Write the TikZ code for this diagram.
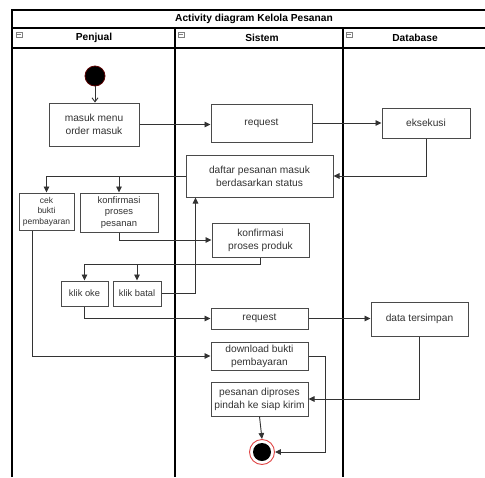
\documentclass[tikz,border=0pt]{standalone}
\usepackage{fontspec}
\setmainfont{Liberation Sans}
\usetikzlibrary{arrows.meta}
\definecolor{ink}{HTML}{333333}
\definecolor{edge}{HTML}{4A4A4A}
\definecolor{ringred}{HTML}{E04848}
\begin{document}
\begin{tikzpicture}[x=1pt,y=-1pt,
  lane/.style={line width=1.8pt,black},
  act/.style={draw=edge,line width=1pt,fill=white,rectangle,inner sep=0pt,
    align=center,text=ink,font=\fontsize{10.2}{13}\selectfont},
  flow/.style={draw=ink,line width=0.9pt,-{Triangle[length=6pt,width=5.5pt]}},
  lanehead/.style={font=\bfseries\fontsize{10.2}{12}\selectfont,text=black},
  foldicon/.style={draw=gray,line width=0.6pt,fill=white}]
\useasboundingbox (0,0) rectangle (485,477);
\clip (0,0) rectangle (485,477);

% swimlane frame
\draw[lane] (12,477) -- (12,10) -- (492,10) -- (492,477);
\draw[lane] (12,28) -- (492,28);
\draw[lane] (12,48) -- (492,48);
\draw[lane] (175,28) -- (175,477);
\draw[lane] (343,28) -- (343,477);
\node[font=\bfseries\fontsize{10.2}{12}\selectfont] (title) at (254,19) {Activity diagram Kelola Pesanan};
\node[lanehead] (hpenjual) at (94,38) {Penjual};
\node[lanehead] (hsistem) at (262,38) {Sistem};
\node[lanehead] (hdb) at (415,38) {Database};
\foreach \ix in {16,178,346}{
  \draw[foldicon] (\ix,32) rectangle ++(6,5);
  \draw[gray,line width=0.6pt] (\ix+1.2,34.5) -- ++(3.6,0);
}

% start and end
\node[circle,fill=black,draw={rgb,255:red,90;green,0;blue,0},line width=0.8pt,
  minimum size=20pt,inner sep=0pt] (start) at (95,76) {};
\node[circle,draw=ringred,line width=0.9pt,fill=white,minimum size=25pt,inner sep=0pt] (end) at (262,452) {};
\fill[black] (end.center) circle (9);

% activities
\node[act,minimum width=90pt,minimum height=43pt] (masuk) at (94,124.5) {masuk menu\\order masuk};
\node[act,minimum width=101pt,minimum height=38pt] (req1) at (261.5,123) {request};
\node[act,minimum width=88pt,minimum height=30pt] (eks) at (426,123) {eksekusi};
\node[act,minimum width=147pt,minimum height=42pt] (daftar) at (259.5,176) {daftar pesanan masuk\\berdasarkan status};
\node[act,minimum width=55pt,minimum height=37pt,font=\fontsize{8.5}{10.5}\selectfont] (cek) at (46.5,211.5) {cek\\bukti\\pembayaran};
\node[act,minimum width=78pt,minimum height=39pt,font=\fontsize{9.4}{11.7}\selectfont] (kpes) at (119,212.5) {konfirmasi\\proses\\pesanan};
\node[act,minimum width=97pt,minimum height=34pt] (kprod) at (260.5,240) {konfirmasi\\proses produk};
\node[act,minimum width=47pt,minimum height=25pt,font=\fontsize{9.3}{11}\selectfont] (oke) at (84.5,293.5) {klik oke};
\node[act,minimum width=48pt,minimum height=25pt,font=\fontsize{9.3}{11}\selectfont] (batal) at (137,293.5) {klik batal};
\node[act,minimum width=97pt,minimum height=21pt] (req2) at (259.5,318.5) {request};
\node[act,minimum width=97pt,minimum height=34pt] (data) at (419.5,319) {data tersimpan};
\node[act,minimum width=97pt,minimum height=28pt] (down) at (259.5,356) {download bukti\\pembayaran};
\node[act,minimum width=97pt,minimum height=34pt] (pes) at (259.5,399) {pesanan diproses\\pindah ke siap kirim};

% junction points (shifts are in canvas units: negative y goes down)
\coordinate (jdaftar) at (kpes.north |- daftar.west);
\coordinate (jprod) at ([yshift=-7pt]kprod.south);
\coordinate (jbatal) at (batal.north |- jprod);
\coordinate (jdown) at ([xshift=17pt]down.east);

% control flow
\draw[draw=ink,line width=0.9pt,-{Straight Barb[length=4pt,width=6pt]}] (start.south) -- (start.south |- masuk.north);
\draw[flow] (masuk.east) -- (masuk.east -| req1.west);
\draw[flow] (req1.east) -- (req1.east -| eks.west);
\draw[flow] (eks.south) |- (daftar.east);
\draw[flow] (daftar.west) -| (cek.north);
\draw[flow] (jdaftar) -- (kpes.north);
\draw[flow] (kpes.south) |- (kprod.west);
\draw[flow] (kprod.south) -- (jprod) -| (oke.north);
\draw[flow] (jbatal) -- (batal.north);
\draw[flow] (batal.east) -| ([xshift=10pt]daftar.south west);
\draw[flow] (oke.south) |- (req2.west);
\draw[flow] (req2.east) -- (req2.east -| data.west);
\draw[flow] ([xshift=14pt]cek.south west) |- (down.west);
\draw[flow] (data.south) |- (pes.east);
\draw[flow] (down.east) -- (jdown) |- (end.east);
\draw[flow] (pes.south) -- (end.north);
\end{tikzpicture}
\end{document}
